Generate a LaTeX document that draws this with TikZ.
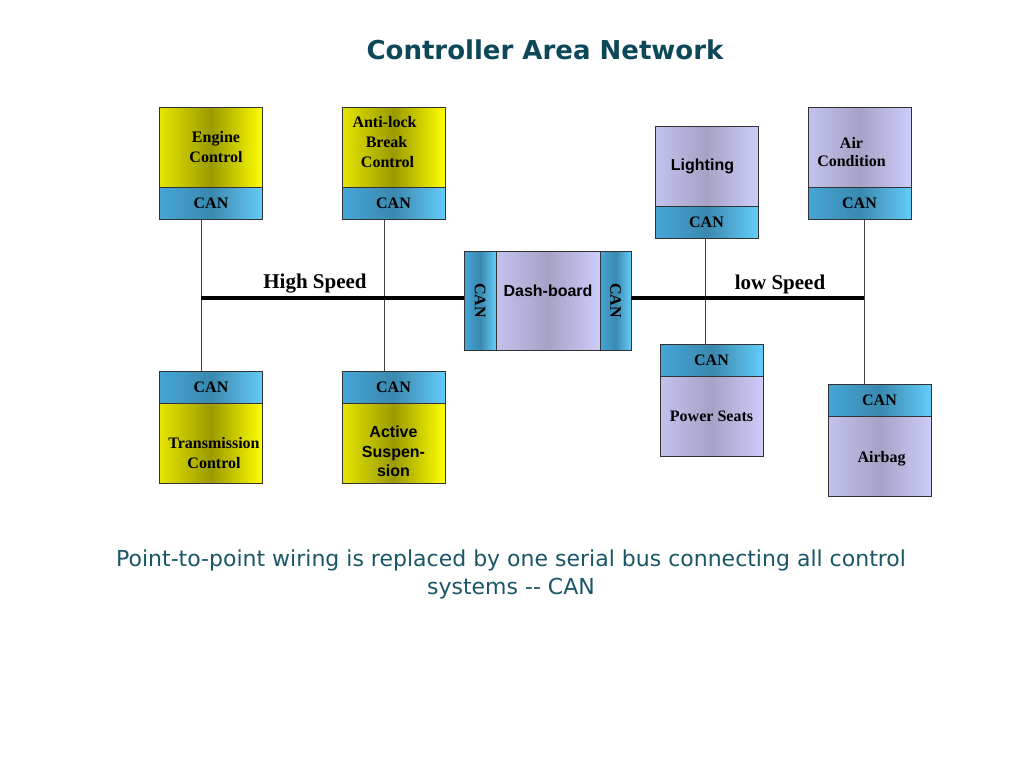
\documentclass[tikz,border=0pt]{standalone}
\usepackage{fontspec}
\usepackage{graphicx}
\setmainfont{Liberation Serif}
\newfontfamily\arialfont{Liberation Sans}
\newfontfamily\verdfont{DejaVu Sans}
\usetikzlibrary{positioning}

\definecolor{titleteal}{HTML}{0D4858}
\definecolor{captteal}{HTML}{1A5666}
\definecolor{ylwleft}{HTML}{E6E600}
\definecolor{ylwmid}{HTML}{9A9A00}
\definecolor{ylwright}{HTML}{FFFF00}
\definecolor{canleft}{HTML}{45A6D8}
\definecolor{canmid}{HTML}{3A88AE}
\definecolor{canright}{HTML}{64CCFA}
\definecolor{lilleft}{HTML}{C2C2EE}
\definecolor{lilmid}{HTML}{A6A2C6}
\definecolor{lilright}{HTML}{CDCDFA}

\newcommand\padr[1]{\hspace*{#1}\mbox{}}

\tikzset{
  box/.style={draw=black!80, line width=0.9pt, inner sep=0pt, outer sep=0pt,
    minimum width=103pt, minimum height=80pt, align=center,
    font=\fontsize{16}{20}\selectfont\bfseries},
  yellowbox/.style={box, left color=ylwleft, right color=ylwright, middle color=ylwmid},
  lilacbox/.style={box, left color=lilleft, right color=lilright, middle color=lilmid},
  canbox/.style={box, minimum height=32pt, left color=canleft, right color=canright, middle color=canmid},
  sanslabel/.style={font=\arialfont\fontsize{16}{19.5}\selectfont\bfseries},
  wire/.style={draw=black!75, line width=0.9pt},
  bus/.style={draw=black, line width=4pt},
  speed/.style={font=\fontsize{21}{24}\selectfont\bfseries}
}

\begin{document}
\begin{tikzpicture}[x=1pt,y=-1pt]
  \useasboundingbox (0,0) rectangle (1024,768);

  \node[font=\verdfont\fontsize{26}{30}\selectfont\bfseries, text=titleteal] (title) at (545,50) {Controller Area Network};

  % high speed side
  \node[yellowbox] (eng) at (211,147) {\padr{10pt}Engine\\\padr{10pt}Control};
  \node[canbox, below=0pt of eng] (engcan) {CAN};
  \node[yellowbox] (abs) at (393.5,147) {Anti-lock\padr{18pt}\\Break\padr{14pt}\\Control\padr{12pt}\\[-10pt]};
  \node[canbox, below=0pt of abs] (abscan) {CAN};

  \node[canbox] (transcan) at (211,387) {CAN};
  \node[yellowbox, below=0pt of transcan] (trans) {\\[11pt]\padr{6pt}Transmission\\\padr{6pt}Control};
  \node[canbox] (suspcan) at (393.5,387) {CAN};
  \node[yellowbox, sanslabel, below=0pt of suspcan] (susp) {\\[9pt]Active\\Suspen-\\sion};

  % dash-board
  \node[lilacbox, sanslabel, minimum width=104pt, minimum height=99pt] (dash) at (548,300.5)
    {\raisebox{10pt}[\height][\depth]{Dash-board}};
  \node[canbox, minimum width=32pt, minimum height=99pt, left=0pt of dash] (dashcanl) {\rotatebox{-90}{CAN}};
  \node[canbox, minimum width=31pt, minimum height=99pt, right=0pt of dash] (dashcanr) {\rotatebox{-90}{CAN}};

  % low speed side
  \node[lilacbox, sanslabel] (light) at (706.5,166) {Lighting\padr{8pt}};
  \node[canbox, below=0pt of light] (lightcan) {CAN};
  \node[lilacbox] (air) at (859.5,147) {\\[1pt]Air\padr{16pt}\\[-2pt]Condition\padr{16pt}};
  \node[canbox, below=0pt of air] (aircan) {CAN};

  \node[canbox] (seatcan) at (711.5,360) {CAN};
  \node[lilacbox, below=0pt of seatcan] (seat) {Power Seats};
  \node[canbox] (bagcan) at (879.5,400) {CAN};
  \node[lilacbox, below=0pt of bagcan] (bag) {\\[-3pt]\padr{4pt}Airbag};

  \coordinate (tapa) at (201,298);
  \coordinate (tapb) at (384,298);
  \coordinate (tapc) at (705,298);
  \coordinate (tapd) at (864,298);

  \draw[wire] (tapa |- engcan.south) -- (tapa |- transcan.north);
  \draw[wire] (tapb |- abscan.south) -- (tapb |- suspcan.north);
  \draw[wire] (tapc |- lightcan.south) -- (tapc |- seatcan.north);
  \draw[wire] (tapd |- aircan.south) -- (tapd |- bagcan.north);

  \draw[bus] (tapa) -- (tapa -| dashcanl.west);
  \draw[bus] (tapd -| dashcanr.east) -- (tapd);

  \node[speed] (high) at (315,284) {High Speed};
  \node[speed] (low) at (780,284) {low Speed};

  \node[font=\verdfont\fontsize{22}{28}\selectfont, text=captteal, align=center] (caption) at (511,574)
    {Point-to-point wiring is replaced by one serial bus connecting all control\\systems -- CAN};
\end{tikzpicture}
\end{document}
